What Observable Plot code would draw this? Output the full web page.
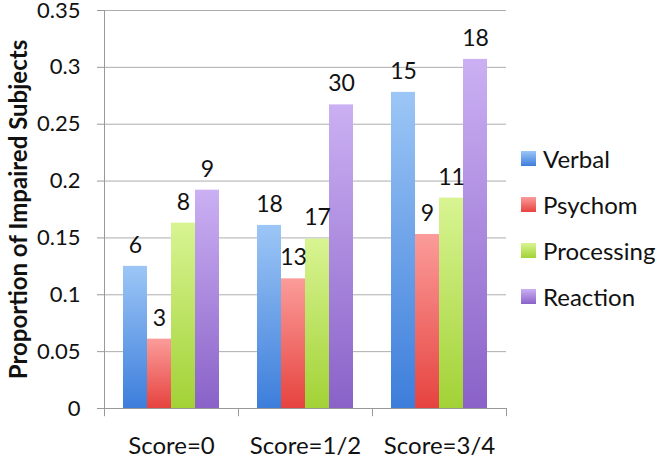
<!DOCTYPE html>
<html>
<head>
<meta charset="utf-8">
<script src="https://cdn.jsdelivr.net/npm/d3@7"></script>
<script src="https://cdn.jsdelivr.net/npm/@observablehq/plot@0.6"></script>
<style>
  body { margin: 0; background: #fff; }
  #chart { position: relative; width: 660px; height: 459px; font-family: Lato, sans-serif; }
  #chart svg { font-family: Lato, sans-serif; }
  #chart svg [aria-label="y-axis label"] text, #chart svg [aria-label="y-axis label"] { font-weight: bold; font-size: 24px; }
  #legend { position: absolute; left: 521px; top: 135px; }
  .item { display: flex; align-items: center; height: 46px; font-size: 24px; color: #111; }
  .sw { width: 15px; height: 15px; margin-right: 7px; }
</style>
</head>
<body>
<div id="chart"></div>
<script>
// ---- data ----
const scores = ["Score=0", "Score=1/2", "Score=3/4"];
const series = ["Verbal", "Psychom", "Processing", "Reaction"];
const verbal = [0.125, 0.161, 0.278];
const psychom = [0.061, 0.114, 0.153];
const processing = [0.163, 0.149, 0.185];
const reaction = [0.192, 0.267, 0.307];
const verbalN = [6, 18, 15];
const psychomN = [3, 13, 9];
const processingN = [8, 17, 11];
const reactionN = [9, 30, 18];
const yTicks = [0, 0.05, 0.1, 0.15, 0.2, 0.25, 0.3, 0.35];
const yLabel = "Proportion of Impaired Subjects";

// ---- styles ----
const gradStops = {
  Verbal: ["#9cc6f6", "#3d7edb"],
  Psychom: ["#fb9c9a", "#e6433f"],
  Processing: ["#d8f492", "#a2d236"],
  Reaction: ["#cbb0f3", "#8a62c8"]
};
const gradIds = series.map((s, i) => "grad" + i);

const values = [verbal, psychom, processing, reaction];
const counts = [verbalN, psychomN, processingN, reactionN];
const table = [];
scores.forEach((sc, j) => series.forEach((se, i) => {
  table.push({score: sc, series: se, value: values[i][j], n: counts[i][j]});
}));

const W = 660, H = 459, mL = 104, mR = 154, mT = 10, mB = 51;
const facetW = (W - mL - mR) / scores.length;

const plot = Plot.plot({
  width: W,
  height: H,
  marginLeft: mL,
  marginRight: mR,
  marginTop: mT,
  marginBottom: mB,
  style: {fontFamily: "Lato, sans-serif", color: "#111", background: "#fff"},
  fx: {domain: scores, padding: 0, label: null},
  x: {domain: series, paddingInner: 0, paddingOuter: 0.735, axis: null},
  y: {domain: [0, 0.35], label: null},
  color: {domain: series, range: gradIds.map(id => `url(#${id})`)},
  marks: [
    Plot.gridY(yTicks, {stroke: "#adadad", strokeOpacity: 1, strokeWidth: 1}),
    Plot.axisY(yTicks, {
      tickSize: 7, tickPadding: 17, fontSize: 22, stroke: "#999",
      tickFormat: d => String(d),
      label: yLabel, labelAnchor: "center", labelOffset: 95, labelArrow: "none"
    }),
    Plot.axisFx({anchor: "bottom", tickSize: 0, tickPadding: 28, fontSize: 24, label: null}),
    // y axis line (left edge of first category)
    Plot.ruleX([scores[0]], {fx: d => d, x: null, y1: 0, y2: 0.35, dx: -facetW / 2, stroke: "#999"}),
    // category boundary ticks
    Plot.ruleX(scores, {fx: d => d, x: null, y1: 0, y2: -0.0072, dx: -facetW / 2, stroke: "#999"}),
    Plot.ruleX([scores[scores.length - 1]], {fx: d => d, x: null, y1: 0, y2: -0.0072, dx: facetW / 2, stroke: "#999"}),
    Plot.barY(table, {fx: "score", x: "series", y: "value", fill: "series"}),
    Plot.ruleY([0], {stroke: "#999"}),
    Plot.text(table, {fx: "score", x: "series", y: "value", text: "n", dy: -21, fontSize: 23, fill: "#111"})
  ]
});

const svg = plot.tagName.toLowerCase() === "svg" ? plot : plot.querySelector("svg");
const NS = "http://www.w3.org/2000/svg";
const defs = document.createElementNS(NS, "defs");
series.forEach((s, i) => {
  const g = document.createElementNS(NS, "linearGradient");
  g.setAttribute("id", gradIds[i]);
  g.setAttribute("x1", "0"); g.setAttribute("y1", "0");
  g.setAttribute("x2", "0"); g.setAttribute("y2", "1");
  gradStops[s].forEach((c, k) => {
    const st = document.createElementNS(NS, "stop");
    st.setAttribute("offset", k === 0 ? "0" : "1");
    st.setAttribute("stop-color", c);
    g.appendChild(st);
  });
  defs.appendChild(g);
});
svg.insertBefore(defs, svg.firstChild);

const chart = document.getElementById("chart");
chart.appendChild(plot);

const legend = document.createElement("div");
legend.id = "legend";
series.forEach(s => {
  const item = document.createElement("div");
  item.className = "item";
  const sw = document.createElement("div");
  sw.className = "sw";
  sw.style.background = `linear-gradient(${gradStops[s][0]}, ${gradStops[s][1]})`;
  const t = document.createElement("span");
  t.textContent = s;
  item.appendChild(sw);
  item.appendChild(t);
  legend.appendChild(item);
});
chart.appendChild(legend);
</script>
</body>
</html>
